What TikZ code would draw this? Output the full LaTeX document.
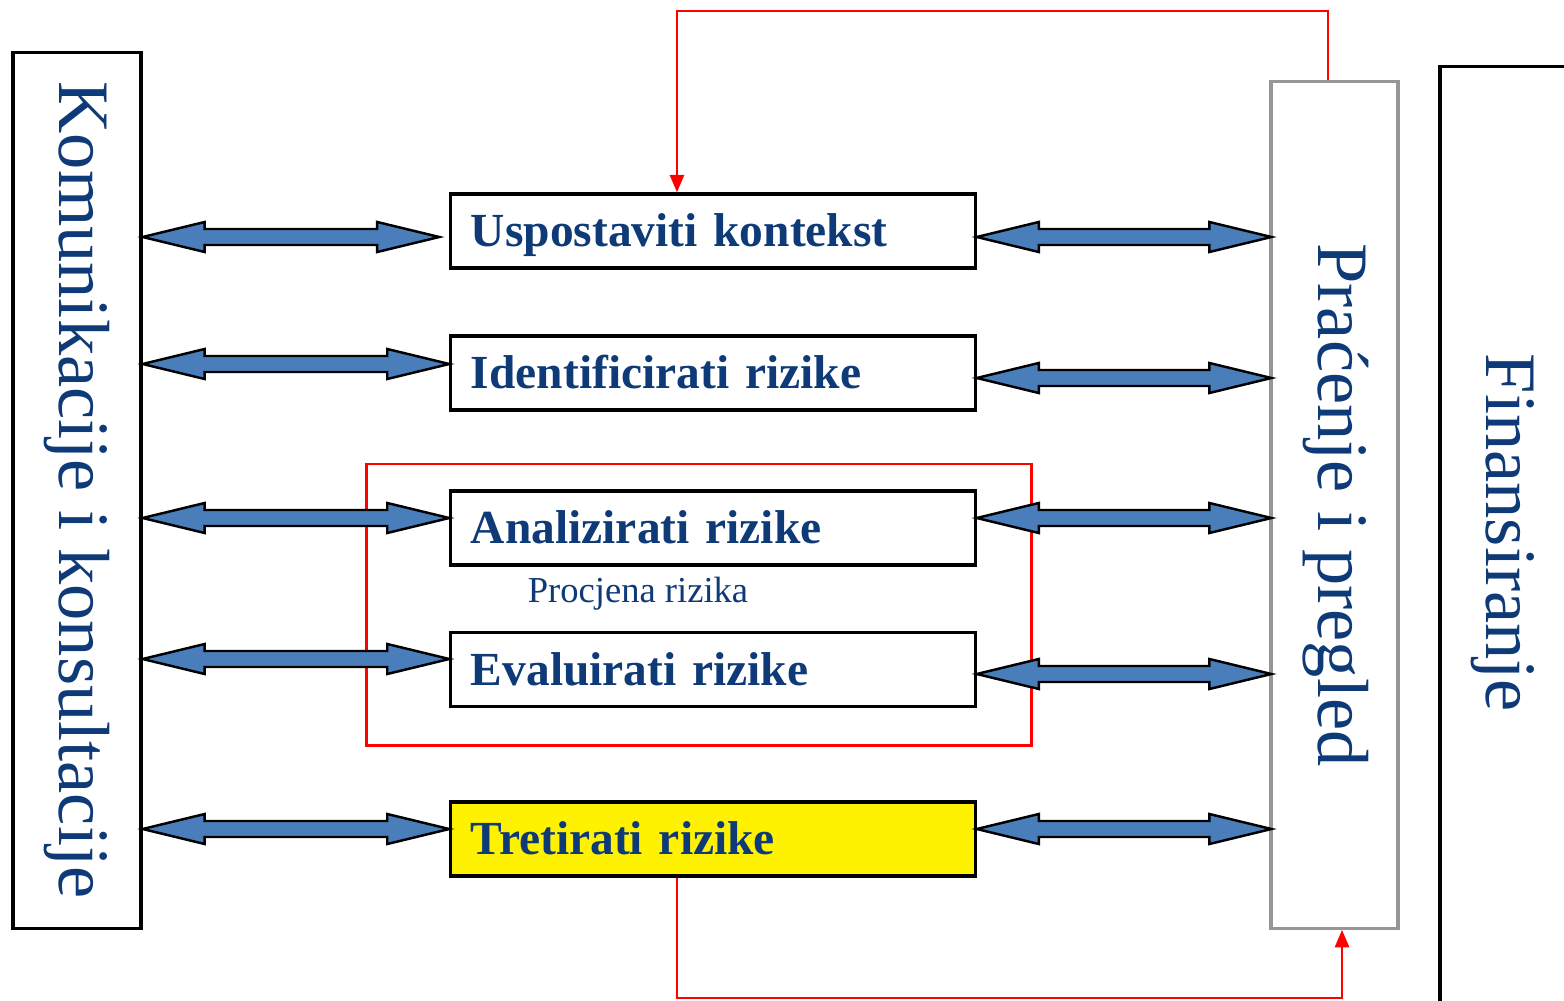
\documentclass[tikz,border=0pt]{standalone}
\usepackage{fontspec}
\setmainfont{Liberation Serif}
\usetikzlibrary{arrows.meta,calc}

\definecolor{navy}{RGB}{14,58,120}
\definecolor{arrowblue}{RGB}{74,126,187}
\definecolor{framegray}{RGB}{150,150,150}
\definecolor{loopred}{RGB}{255,0,0}

% double-headed block arrow between two anchors, at a given height
\newcommand\dblarrow[3]{%
  \path let \p1=(#1), \p2=(#2), \p3=(0,#3) in
    [fill=arrowblue, draw=black, line width=0.7pt, line join=miter]
    (\x1,\y3) -- ++(0.62cm,0.15cm) -- ++(0,-0.07cm)
    -- ++({\x2-\x1-1.24cm},0) -- ++(0,0.07cm) -- (\x2,\y3)
    -- ++(-0.62cm,-0.15cm) -- ++(0,0.07cm)
    -- ++({-(\x2-\x1-1.24cm)},0) -- ++(0,-0.07cm) -- cycle;}

\begin{document}
\begin{tikzpicture}[x=0.01cm,y=-0.01cm,
  stepbox/.style={draw=black, line width=0.9pt, fill=white,
    minimum width=5.24cm, minimum height=0.74cm,
    text width=4.84cm, align=left, inner xsep=0.2cm, inner ysep=0pt,
    text height=12pt, text depth=3pt,
    text=navy, font=\fontsize{13.5}{16}\selectfont\bfseries},
  sidebox/.style={draw=black, line width=0.9pt, inner sep=0pt},
  sidetext/.style={rotate=-90, text=navy, font=\fontsize{20.6}{24}\selectfont},
  redline/.style={draw=loopred, line width=0.8pt},
  redtip/.style={-{Triangle[length=5pt,width=4pt]}}]

\useasboundingbox (0,0) rectangle (1564,1000);
\fill[white] (0,0) rectangle (1564,1000);

% side columns
\node[sidebox, minimum width=1.28cm, minimum height=8.75cm] (kom) at (77,490.5) {};
\node[sidetext] (komt) at (77,490) {Komunikacije i konsultacije};

\node[sidebox, draw=framegray, minimum width=1.27cm, minimum height=8.46cm] (prac) at (1334.5,505) {};
\node[sidetext] (pract) at (1336,505) {Praćenje i pregled};

\node[sidebox, minimum width=1.3cm, minimum height=9.46cm] (fin) at (1505,540) {};
\node[sidetext] (fint) at (1503,533) {Finansiranje};

% risk assessment frame
\node[draw=loopred, line width=0.8pt, minimum width=6.64cm, minimum height=2.81cm, inner sep=0pt] (assess) at (699,604.5) {};
\node[text=navy, font=\fontsize{10.4}{12}\selectfont] (assesst) at (638,594) {Procjena rizika};

% process steps
\node[stepbox] (u) at (713,231) {Uspostaviti kontekst};
\node[stepbox] (i) at (713,373) {Identificirati rizike};
\node[stepbox] (a) at (713,528) {Analizirati rizike};
\node[stepbox] (e) at (713,669.5) {Evaluirati rizike};
\node[stepbox, fill=yellow] (t) at (713,839) {Tretirati rizike};

% communication arrows (left)
\dblarrow{kom.east}{[xshift=-0.1cm]u.west}{237}
\dblarrow{kom.east}{i.west}{364}
\dblarrow{kom.east}{a.west}{518}
\dblarrow{kom.east}{e.west}{659}
\dblarrow{kom.east}{t.west}{829}

% monitoring arrows (right)
\dblarrow{u.east}{[xshift=0.02cm]prac.west}{237}
\dblarrow{i.east}{[xshift=0.02cm]prac.west}{378}
\dblarrow{a.east}{[xshift=0.02cm]prac.west}{518}
\dblarrow{e.east}{[xshift=0.02cm]prac.west}{674}
\dblarrow{t.east}{[xshift=0.02cm]prac.west}{829}

% feedback loops
\coordinate (pTop) at ([xshift=-0.065cm]prac.north);
\coordinate (uIn) at ([xshift=-0.36cm]u.north);
\coordinate (topy) at (0,11);
\draw[redline, redtip] (pTop) -- (pTop |- topy) -| (uIn);

\coordinate (tOut) at ([xshift=-0.36cm]t.south);
\coordinate (pIn) at ([xshift=0.075cm]prac.south);
\coordinate (boty) at (0,998);
\draw[redline, redtip] (tOut) -- (tOut |- boty) -| (pIn);

\end{tikzpicture}
\end{document}
